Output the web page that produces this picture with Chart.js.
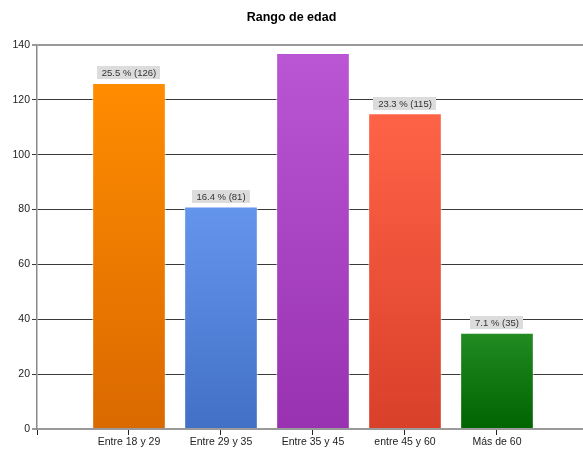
<!DOCTYPE html>
<html>
<head>
<meta charset="utf-8">
<script src="https://cdn.jsdelivr.net/npm/chart.js@4.4.1/dist/chart.umd.min.js"></script>
<style>
  html, body { margin: 0; padding: 0; background: #ffffff; }
  #wrap { width: 583px; height: 451px; }
</style>
</head>
<body>
<div id="wrap"><canvas id="c" width="583" height="451"></canvas></div>
<script>
const categories = ['Entre 18 y 29', 'Entre 29 y 35', 'Entre 35 y 45', 'entre 45 y 60', 'Más de 60'];
const values = [126, 81, 137, 115, 35];
const showLabel = [true, true, false, true, true];
const topColors = ['#FF8C00', '#6495ED', '#BA55D3', '#FF6347', '#228B22'];
const bottomColors = ['#DA6900', '#4270C6', '#9832B0', '#D9402A', '#006400'];
const yMin = 0, yMax = 140, yStep = 20;
const chartTitle = 'Rango de edad';

const total = values.reduce((a, b) => a + b, 0);
const FONT = '"Liberation Sans", Arial, sans-serif';

function barGradient(ctx) {
  const chart = ctx.chart;
  const i = ctx.dataIndex;
  if (!chart.chartArea || i === undefined) return topColors[i] || '#888';
  const ys = chart.scales.y;
  const top = ys.getPixelForValue(values[i]);
  const bottom = ys.getPixelForValue(0);
  const g = chart.ctx.createLinearGradient(0, top, 0, bottom);
  g.addColorStop(0, topColors[i]);
  g.addColorStop(1, bottomColors[i]);
  return g;
}

const labelPlugin = {
  id: 'valueLabels',
  afterDatasetsDraw(chart) {
    const meta = chart.getDatasetMeta(0);
    const c = chart.ctx;
    c.save();
    c.font = '9.5px ' + FONT;
    c.textAlign = 'center';
    c.textBaseline = 'middle';
    meta.data.forEach((el, i) => {
      if (!showLabel[i]) return;
      const pct = (values[i] / total * 100).toFixed(1);
      const txt = pct + ' % (' + values[i] + ')';
      const tw = c.measureText(txt).width;
      const w = Math.round(tw + 9), h = 13;
      const x = Math.round(el.x - w / 2);
      const yb = Math.round(el.y) - 4;
      c.fillStyle = '#dcdcdc';
      c.fillRect(x, yb - h, w, h);
      c.fillStyle = '#333333';
      c.fillText(txt, el.x, yb - h / 2 + 0.5);
    });
    c.restore();
  }
};

new Chart(document.getElementById('c'), {
  type: 'bar',
  data: {
    datasets: [{
      data: categories.map((cat, i) => ({ x: i + 1, y: values[i] })),
      backgroundColor: barGradient,
      borderColor: 'rgba(255,255,255,0.55)',
      borderWidth: 1,
      barThickness: 73
    }]
  },
  options: {
    responsive: false,
    animation: false,
    devicePixelRatio: 1,
    layout: { padding: 0 },
    plugins: {
      legend: { display: false },
      tooltip: { enabled: false },
      title: {
        display: true,
        text: chartTitle,
        color: '#000000',
        font: { family: FONT, size: 12.5, weight: 'bold' },
        padding: { top: 10, bottom: 20 }
      }
    },
    scales: {
      x: {
        type: 'linear',
        min: 0,
        max: 5.935,
        offset: false,
        afterBuildTicks(scale) {
          scale.ticks = [0, 1, 2, 3, 4, 5].map(v => ({ value: v }));
        },
        afterFit(scale) { scale.height = 22; },
        ticks: {
          autoSkip: false,
          maxRotation: 0,
          padding: 1,
          color: '#222222',
          font: { family: FONT, size: 10.5 },
          callback: (v) => categories[v - 1] || ''
        },
        grid: {
          offset: false,
          drawOnChartArea: false,
          drawTicks: true,
          tickLength: 6,
          tickWidth: 1,
          tickColor: '#222222',
          color: '#222222'
        },
        border: { color: '#9a9a9a', width: 2 }
      },
      y: {
        min: yMin,
        max: yMax,
        afterFit(scale) { scale.width = 37; },
        ticks: {
          stepSize: yStep,
          padding: 2,
          color: '#222222',
          font: { family: FONT, size: 10.5 }
        },
        grid: {
          tickLength: 5,
          color: (ctx) => (ctx.tick && (ctx.tick.value === yMax || ctx.tick.value === yMin)) ? '#9a9a9a' : '#3a3a3a',
          lineWidth: (ctx) => (ctx.tick && (ctx.tick.value === yMax || ctx.tick.value === yMin)) ? 2 : 1
        },
        border: { color: '#8a8a8a', width: 1.5 }
      }
    }
  },
  plugins: [labelPlugin]
});
</script>
</body>
</html>
